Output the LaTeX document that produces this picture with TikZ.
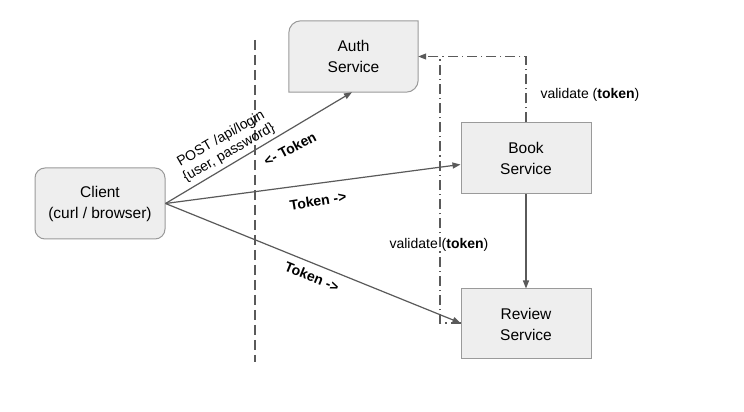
\documentclass[tikz,border=0pt]{standalone}
\usepackage{fontspec}
\setmainfont{Liberation Sans}
\usetikzlibrary{arrows.meta,backgrounds,calc}
\definecolor{boxfill}{HTML}{EEEEEE}
\definecolor{boxline}{HTML}{9A9A9A}
\definecolor{ln}{HTML}{5A5A5A}
\begin{document}
\begin{tikzpicture}[x=1pt,y=1pt,
  box/.style={minimum width=130pt,minimum height=71pt,inner sep=0pt,align=center,
    font=\fontsize{15.5}{21}\selectfont},
  boxdraw/.style={draw=boxline,fill=boxfill,line width=1pt},
  conn/.style={draw=ln,line width=1.2pt,-{Triangle[length=8pt,width=6pt]}},
  dd/.style={draw=ln,line width=1.2pt,dash pattern=on 10pt off 4pt on 1.2pt off 4pt},
  lbl/.style={font=\fontsize{14}{17}\selectfont,inner sep=1pt,align=center},
  blbl/.style={font=\fontsize{14}{17}\selectfont\bfseries,inner sep=1pt}]
\useasboundingbox (0,0) rectangle (744,412);
% dashed boundary
\coordinate (dtop) at (255,372);
\coordinate (dbot) at (255,50);
\draw[ln,line width=2pt,dash pattern=on 10pt off 5pt] (dtop) -- (dbot);
% nodes
\node[box,boxdraw,rounded corners=10pt] (client) at (100,208.5) {Client\\(curl / browser)};
\node[box,minimum width=129pt] (auth) at (353.5,355.5) {Auth\\Service};
\begin{scope}[on background layer]
\fill[white] (0,0) rectangle (744,412);
\path[boxdraw] ([yshift=-12pt]auth.north west) arc[start angle=180,end angle=90,radius=12pt]
  -- (auth.north east) -- ([yshift=12pt]auth.south east)
  arc[start angle=0,end angle=-90,radius=12pt] -- (auth.south west) -- cycle;
\end{scope}
\node[box,boxdraw] (book) at (526,253.5) {Book\\Service};
\node[box,boxdraw,minimum height=70pt] (review) at (526,88) {Review\\Service};
% connectors
\draw[conn] (client.east) -- ([xshift=-1.5pt]auth.south);
\draw[conn] (client.east) -- ([yshift=-6pt]book.west);
\draw[conn] (client.east) -- ([yshift=1pt]review.west);
\draw[conn] (book.south) -- (review.north);
% validate lines
\coordinate (j) at (440,355.5);
\draw[dd,-{Triangle[length=8pt,width=6pt]}] (book.north) -- (book.north |- auth.east) -- (auth.east);
\draw[dd] ([yshift=1pt]review.west) -| (j);
% labels
\node[lbl] (v1) at (590,317) {validate (\textbf{token})};
\node[lbl] (v2) at (439,167) {validate (\textbf{token})};
\node[lbl,rotate=30,font=\fontsize{14}{16}\selectfont] (post) at (225,266) {POST /api/login\\\{user, password\}};
\node[blbl,rotate=28] (t1) at (290,263) {<- Token};
\node[blbl,rotate=9] (t2) at (318,211) {Token ->};
\node[blbl,rotate=-22] (t3) at (312,135) {Token ->};
\end{tikzpicture}
\end{document}
